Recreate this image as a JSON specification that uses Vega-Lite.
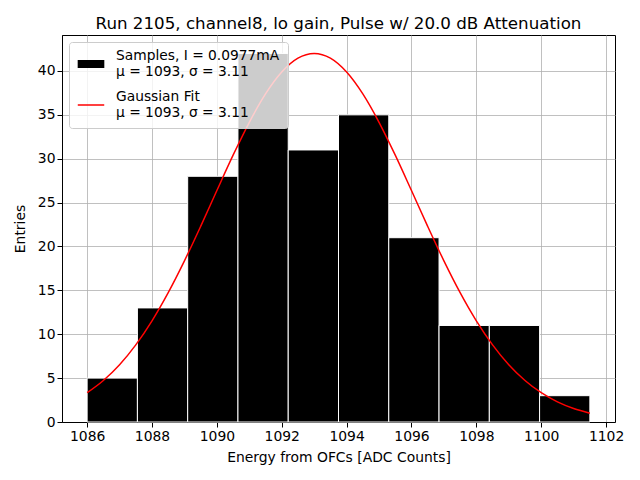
{
  "$schema": "https://vega.github.io/schema/vega-lite/v6.json",
  "autosize": "none",
  "width": 553,
  "height": 387,
  "padding": {"left": 62, "top": 35, "right": 25, "bottom": 58},
  "title": {"text": "Run 2105, channel8, lo gain, Pulse w/ 20.0 dB Attenuation", "font": "DejaVu Sans", "fontSize": 16.7, "fontWeight": "normal", "color": "black", "offset": 2},
  "config": {
    "view": {"stroke": "black", "strokeWidth": 1},
    "axis": {"labelFont": "DejaVu Sans", "labelFontSize": 13.9, "labelColor": "black", "titleFont": "DejaVu Sans", "titleFontSize": 13.9, "titleFontWeight": "normal", "titleColor": "black", "domainColor": "black", "tickColor": "black", "tickSize": 5, "gridColor": "#b0b0b0", "gridWidth": 0.8, "gridOpacity": 1, "zindex": 1},
    "legend": {"orient": "top-left", "offset": 7, "padding": 8, "fillColor": "rgba(255,255,255,0.8)", "strokeColor": "#cccccc", "cornerRadius": 3, "labelFont": "DejaVu Sans", "labelFontSize": 13.8, "labelColor": "black", "labelLineHeight": 16, "labelBaseline": "line-bottom", "rowPadding": 11, "labelOffset": 11, "labelLimit": 400, "symbolSize": 700, "symbolStrokeWidth": 1.5, "symbolOpacity": 1}
  },
  "layer": [
    {
      "data": {"values": [
        {"lo": 1086.0, "hi": 1087.55, "count": 5, "series": "Samples, I = 0.0977mA|μ = 1093, σ = 3.11"},
        {"lo": 1087.55, "hi": 1089.1, "count": 13, "series": "Samples, I = 0.0977mA|μ = 1093, σ = 3.11"},
        {"lo": 1089.1, "hi": 1090.65, "count": 28, "series": "Samples, I = 0.0977mA|μ = 1093, σ = 3.11"},
        {"lo": 1090.65, "hi": 1092.2, "count": 42, "series": "Samples, I = 0.0977mA|μ = 1093, σ = 3.11"},
        {"lo": 1092.2, "hi": 1093.75, "count": 31, "series": "Samples, I = 0.0977mA|μ = 1093, σ = 3.11"},
        {"lo": 1093.75, "hi": 1095.3, "count": 35, "series": "Samples, I = 0.0977mA|μ = 1093, σ = 3.11"},
        {"lo": 1095.3, "hi": 1096.85, "count": 21, "series": "Samples, I = 0.0977mA|μ = 1093, σ = 3.11"},
        {"lo": 1096.85, "hi": 1098.4, "count": 11, "series": "Samples, I = 0.0977mA|μ = 1093, σ = 3.11"},
        {"lo": 1098.4, "hi": 1099.95, "count": 11, "series": "Samples, I = 0.0977mA|μ = 1093, σ = 3.11"},
        {"lo": 1099.95, "hi": 1101.5, "count": 3, "series": "Samples, I = 0.0977mA|μ = 1093, σ = 3.11"}
      ]},
      "mark": {"type": "rect", "stroke": "white", "strokeWidth": 1},
      "encoding": {
        "x": {"field": "lo", "type": "quantitative", "scale": {"domain": [1085.225, 1102.275], "nice": false, "zero": false}, "axis": {"values": [1086, 1088, 1090, 1092, 1094, 1096, 1098, 1100, 1102], "title": "Energy from OFCs [ADC Counts]", "format": "d", "labelFlush": false, "titlePadding": 8}},
        "x2": {"field": "hi"},
        "y": {"field": "count", "type": "quantitative", "scale": {"domain": [0, 44.1], "nice": false}, "axis": {"values": [0, 5, 10, 15, 20, 25, 30, 35, 40], "title": "Entries", "labelFlush": false, "titlePadding": 10}},
        "y2": {"datum": 0},
        "color": {"field": "series", "type": "nominal", "scale": {"domain": ["Samples, I = 0.0977mA|μ = 1093, σ = 3.11", "Gaussian Fit|μ = 1093, σ = 3.11"], "range": ["black", "red"]},
          "legend": {"title": null, "labelExpr": "split(datum.label, '|')"}}
      }
    },
    {
      "data": {"values": [
        {"x": 1086.0, "y": 3.336, "series": "Gaussian Fit|μ = 1093, σ = 3.11"}, {"x": 1086.5, "y": 4.729, "series": "Gaussian Fit|μ = 1093, σ = 3.11"},
        {"x": 1087.0, "y": 6.531, "series": "Gaussian Fit|μ = 1093, σ = 3.11"}, {"x": 1087.5, "y": 8.793, "series": "Gaussian Fit|μ = 1093, σ = 3.11"},
        {"x": 1088.0, "y": 11.534, "series": "Gaussian Fit|μ = 1093, σ = 3.11"}, {"x": 1088.5, "y": 14.745, "series": "Gaussian Fit|μ = 1093, σ = 3.11"},
        {"x": 1089.0, "y": 18.367, "series": "Gaussian Fit|μ = 1093, σ = 3.11"}, {"x": 1089.5, "y": 22.296, "series": "Gaussian Fit|μ = 1093, σ = 3.11"},
        {"x": 1090.0, "y": 26.375, "series": "Gaussian Fit|μ = 1093, σ = 3.11"}, {"x": 1090.5, "y": 30.404, "series": "Gaussian Fit|μ = 1093, σ = 3.11"},
        {"x": 1091.0, "y": 34.154, "series": "Gaussian Fit|μ = 1093, σ = 3.11"}, {"x": 1091.5, "y": 37.388, "series": "Gaussian Fit|μ = 1093, σ = 3.11"},
        {"x": 1092.0, "y": 39.884, "series": "Gaussian Fit|μ = 1093, σ = 3.11"}, {"x": 1092.5, "y": 41.461, "series": "Gaussian Fit|μ = 1093, σ = 3.11"},
        {"x": 1093.0, "y": 42.0, "series": "Gaussian Fit|μ = 1093, σ = 3.11"}, {"x": 1093.5, "y": 41.461, "series": "Gaussian Fit|μ = 1093, σ = 3.11"},
        {"x": 1094.0, "y": 39.884, "series": "Gaussian Fit|μ = 1093, σ = 3.11"}, {"x": 1094.5, "y": 37.388, "series": "Gaussian Fit|μ = 1093, σ = 3.11"},
        {"x": 1095.0, "y": 34.154, "series": "Gaussian Fit|μ = 1093, σ = 3.11"}, {"x": 1095.5, "y": 30.404, "series": "Gaussian Fit|μ = 1093, σ = 3.11"},
        {"x": 1096.0, "y": 26.375, "series": "Gaussian Fit|μ = 1093, σ = 3.11"}, {"x": 1096.5, "y": 22.296, "series": "Gaussian Fit|μ = 1093, σ = 3.11"},
        {"x": 1097.0, "y": 18.367, "series": "Gaussian Fit|μ = 1093, σ = 3.11"}, {"x": 1097.5, "y": 14.745, "series": "Gaussian Fit|μ = 1093, σ = 3.11"},
        {"x": 1098.0, "y": 11.534, "series": "Gaussian Fit|μ = 1093, σ = 3.11"}, {"x": 1098.5, "y": 8.793, "series": "Gaussian Fit|μ = 1093, σ = 3.11"},
        {"x": 1099.0, "y": 6.531, "series": "Gaussian Fit|μ = 1093, σ = 3.11"}, {"x": 1099.5, "y": 4.729, "series": "Gaussian Fit|μ = 1093, σ = 3.11"},
        {"x": 1100.0, "y": 3.336, "series": "Gaussian Fit|μ = 1093, σ = 3.11"}, {"x": 1100.5, "y": 2.293, "series": "Gaussian Fit|μ = 1093, σ = 3.11"},
        {"x": 1101.0, "y": 1.536, "series": "Gaussian Fit|μ = 1093, σ = 3.11"}, {"x": 1101.5, "y": 1.003, "series": "Gaussian Fit|μ = 1093, σ = 3.11"}
      ]},
      "mark": {"type": "line", "strokeWidth": 1.5, "interpolate": "monotone"},
      "encoding": {
        "x": {"field": "x", "type": "quantitative"},
        "y": {"field": "y", "type": "quantitative"},
        "color": {"field": "series", "type": "nominal"}
      }
    },
    {
      "data": {"values": [
        {"series": "Samples, I = 0.0977mA|μ = 1093, σ = 3.11"},
        {"series": "Gaussian Fit|μ = 1093, σ = 3.11"}
      ]},
      "mark": {"type": "point", "opacity": 0},
      "encoding": {
        "color": {"field": "series", "type": "nominal"},
        "shape": {"field": "series", "type": "nominal", "scale": {"domain": ["Samples, I = 0.0977mA|μ = 1093, σ = 3.11", "Gaussian Fit|μ = 1093, σ = 3.11"], "range": ["M-0.95,-0.25H0.95V0.25H-0.95Z", "stroke"]},
          "legend": {"title": null, "labelExpr": "split(datum.label, '|')"}}
      }
    }
  ]
}
